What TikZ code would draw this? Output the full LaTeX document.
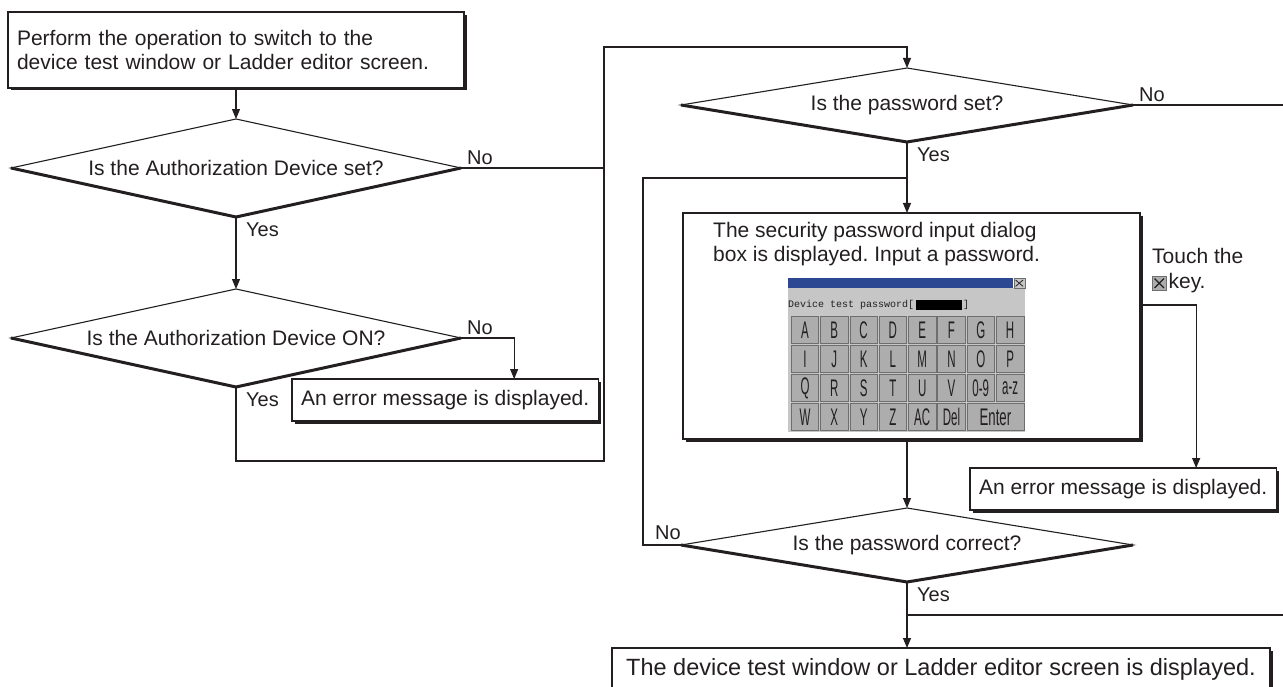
\documentclass[tikz,border=0pt]{standalone}
\usepackage{fontspec}
\usepackage{graphicx}
\setmainfont{Liberation Sans}
\setmonofont{Liberation Mono}
\usetikzlibrary{shapes.geometric,arrows.meta}
\definecolor{ink}{HTML}{231F20}
\definecolor{barblue}{HTML}{2D4892}
\definecolor{panelgray}{HTML}{C6C6C6}
\definecolor{keygray}{HTML}{ADADAD}
\definecolor{keyedge}{HTML}{6E6E6E}
\tikzset{
  flowbox/.style={draw=ink, line width=1.1pt, fill=white, inner xsep=9pt, inner ysep=0pt, outer sep=0pt, anchor=north west, align=left},
  decision/.style={diamond, draw=ink, line width=1.1pt, fill=white, inner sep=0pt, outer sep=0pt, aspect=5},
  heavy/.style={draw=ink, line width=3pt},
  flow/.style={draw=ink, line width=1.1pt},
  arrowflow/.style={flow, -{Triangle[length=10pt,width=8pt]}},
  answer/.style={inner sep=0pt, font=\fontsize{20}{20}\selectfont},
  kbkey/.style={draw=keyedge, fill=keygray, line width=0.6pt, minimum width=27.5pt, minimum height=27pt, inner sep=0pt, font=\fontsize{24}{24}\selectfont}
}
\frenchspacing
\begin{document}
\begin{tikzpicture}[x=1pt, y=-1pt, font=\fontsize{21}{24}\selectfont, text=ink]
\useasboundingbox (0,0) rectangle (1283,687);

\node[flowbox, text width=438pt, minimum height=76pt] (start) at (8,12) {Perform the operation to switch to the\\device test window or Ladder editor screen.};
\node[decision, minimum width=450pt, minimum height=98pt] (d1) at (236,168) {Is the Authorization Device set?};
\node[decision, minimum width=450pt, minimum height=98pt] (d2) at (236,338) {Is the Authorization Device ON?};
\node[flowbox, minimum width=306pt, minimum height=42pt] (err1) at (292,379) {An error message is displayed.};

\node[decision, minimum width=452pt, minimum height=74pt] (d3) at (907,105) {Is the password set?};
\node[flowbox, minimum width=457pt, minimum height=226pt] (dialog) at (683,213) {};
\node[anchor=north west, inner sep=0pt, align=left] (dialogtxt) at (713,222) {The security password input dialog\\box is displayed. Input a password.};
\node[flowbox, minimum width=300pt, minimum height=42pt] (err2) at (970,468) {An error message is displayed.};
\node[decision, minimum width=452pt, minimum height=74pt] (d4) at (907,545) {Is the password correct?};
\node[flowbox, minimum width=658pt, minimum height=42pt, font=\fontsize{23.5}{26}\selectfont] (finish) at (612,648) {The device test window or Ladder editor screen is displayed.};

\foreach \b in {start,err1,dialog,err2,finish}
  \draw[heavy] ([xshift=1pt,yshift=-3pt]\b.north east) -- ([xshift=1pt,yshift=-1pt]\b.south east) -- ([xshift=3pt,yshift=-1pt]\b.south west);
\foreach \d in {d1,d2,d3,d4}
  \draw[heavy] (\d.west) -- (\d.south) -- (\d.east);

\coordinate (looptop) at (604,47);
\coordinate (loopbot) at (604,461);
\coordinate (join) at (907,178);
\coordinate (nobend) at (643,178);
\coordinate (noexit) at (1283,105);
\coordinate (yesexit) at (1283,615);
\coordinate (touchpt) at (dialog.east |- 0,305);

\draw[arrowflow] (start) -- (d1);
\draw[arrowflow] (d1) -- (d2);
\draw[flow] (d1.east) -- (d1.east -| looptop);
\draw[arrowflow] (d2.east) -| ([xshift=69pt]err1.north);
\draw[arrowflow] (d2.south) |- (loopbot) -- (looptop) -| (d3.north);
\draw[flow] (d3.east) -- (noexit);
\draw[arrowflow] (d3.south) -- (d3.south |- dialog.north);
\draw[arrowflow] (d3.south |- dialog.south) -- (d4.north);
\draw[arrowflow] (touchpt) -| ([xshift=73pt]err2.north);
\draw[flow] (d4.west) -| (nobend) -- (join);
\draw[arrowflow] (d4.south) -- (d4.south |- finish.north);
\draw[flow] (d4.south |- yesexit) -- (yesexit);

\node[answer, anchor=south west] (d1no) at ([shift={(6pt,3pt)}]d1.east) {No};
\node[answer, anchor=north west] (d1yes) at ([shift={(10pt,-6pt)}]d1.south) {Yes};
\node[answer, anchor=south west] (d2no) at ([shift={(6pt,3pt)}]d2.east) {No};
\node[answer, anchor=north west] (d2yes) at ([shift={(10pt,-6pt)}]d2.south) {Yes};
\node[answer, anchor=south west] (d3no) at ([shift={(6pt,3pt)}]d3.east) {No};
\node[answer, anchor=north west] (d3yes) at ([shift={(10pt,-6pt)}]d3.south) {Yes};
\node[answer, anchor=south east] (d4no) at ([shift={(0pt,5pt)}]d4.west) {No};
\node[answer, anchor=north west] (d4yes) at ([shift={(10pt,-6pt)}]d4.south) {Yes};

\node[anchor=north west, inner sep=0pt] (touch) at (1152,248) {Touch the};
\node[draw=keyedge, fill=keygray, minimum size=14pt, inner sep=0pt, anchor=north west] (xicon) at (1152,276) {};
\draw[ink, line width=1.2pt] ([shift={(2.5pt,-2.5pt)}]xicon.north west) -- ([shift={(-2.5pt,2.5pt)}]xicon.south east);
\draw[ink, line width=1.2pt] ([shift={(-2.5pt,-2.5pt)}]xicon.north east) -- ([shift={(2.5pt,2.5pt)}]xicon.south west);
\node[anchor=west, inner sep=0pt] (keyword) at ([xshift=2pt]xicon.east) {key.};

\node[fill=panelgray, minimum width=237pt, minimum height=144pt, inner sep=0pt, anchor=north west] (panel) at (788,288) {};
\node[fill=barblue, minimum width=225pt, minimum height=10pt, inner sep=0pt, anchor=north west] (titlebar) at (788,278) {};
\node[draw=keyedge, fill=panelgray, minimum width=11pt, minimum height=10pt, inner sep=0pt, anchor=north east] (closebtn) at (1025,278) {};
\draw[ink, line width=0.8pt] ([shift={(2pt,-2pt)}]closebtn.north west) -- ([shift={(-2pt,2pt)}]closebtn.south east);
\draw[ink, line width=0.8pt] ([shift={(-2pt,-2pt)}]closebtn.north east) -- ([shift={(2pt,2pt)}]closebtn.south west);
\node[anchor=west, inner sep=0pt, font=\ttfamily\fontsize{10}{10}\selectfont] (pwlabel) at (788,305) {Device test password[};
\node[fill=black, minimum width=46pt, minimum height=10pt, inner sep=0pt, anchor=west] (pwfield) at ([xshift=1pt]pwlabel.east) {};
\node[anchor=west, inner sep=1pt, font=\ttfamily\fontsize{10}{10}\selectfont] (pwend) at (pwfield.east) {]};

\foreach \keyrow [count=\r from 0] in {{A,B,C,D,E,F,G,H},{I,J,K,L,M,N,O,P},{Q,R,S,T,U,V,0-9,a-z},{W,X,Y,Z,AC,Del}}
  \foreach \keycap [count=\c from 0] in \keyrow
    \node[kbkey] (key-\r-\c) at ({805+29.3*\c},{330+29*\r}) {\scalebox{0.48}[1]{\keycap}};
\node[kbkey, minimum width=56.8pt] (key-enter) at ({805+29.3*6.5},{330+29*3}) {\scalebox{0.55}[1]{Enter}};
\end{tikzpicture}
\end{document}
